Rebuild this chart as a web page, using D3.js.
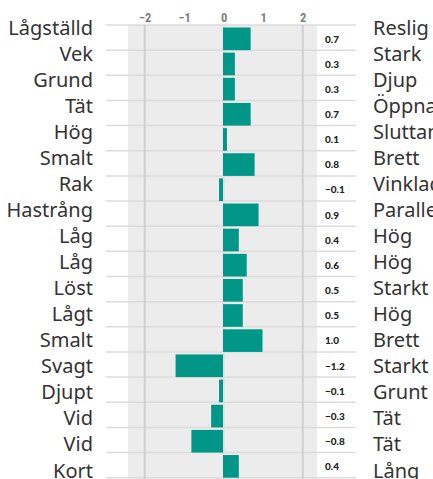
<!DOCTYPE html>
<html>
<head>
<meta charset="utf-8">
<script src="https://cdn.jsdelivr.net/npm/d3@7"></script>
<style>
  body { margin: 0; background: #fff; }
  svg { display: block; }
</style>
</head>
<body>
<div id="chart"></div>
<script>
var leftLabels = ["Lågställd", "Vek", "Grund", "Tät", "Hög", "Smalt", "Rak", "Hastrång", "Låg",
  "Låg", "Löst", "Lågt", "Smalt", "Svagt", "Djupt", "Vid", "Vid", "Kort"];
var rightLabels = ["Reslig", "Stark", "Djup", "Öppna", "Sluttande", "Brett", "Vinklad", "Parallell", "Hög",
  "Hög", "Starkt", "Hög", "Brett", "Starkt", "Grunt", "Tät", "Tät", "Lång"];
var values = [0.7, 0.3, 0.3, 0.7, 0.1, 0.8, -0.1, 0.9, 0.4, 0.6, 0.5, 0.5, 1.0, -1.2, -0.1, -0.3, -0.8, 0.4];
var ticks = [-2, -1, 0, 1, 2];

var W = 433, H = 479;
var svg = d3.select("#chart").append("svg").attr("width", W).attr("height", H);

var x = d3.scaleLinear().domain([-2, 2]).range([144.7, 302.7]);
var y = d3.scaleBand().domain(d3.range(values.length)).range([25, 477.7]).paddingInner(0);
// labels on the sides use their own line spacing
var ly = d3.scalePoint().domain(d3.range(values.length)).range([27.5, 470.5]);

// grey panel
svg.append("rect").attr("x", 128).attr("y", 25).attr("width", 189).attr("height", H - 25).attr("fill", "#ececec");

// row lines
function rowEdge(i){ return i < values.length ? y(i) : y(values.length - 1) + y.bandwidth(); }
svg.selectAll("line.row").data(d3.range(values.length + 1)).enter().append("line")
  .attr("class", "row")
  .attr("x1", 106).attr("x2", 356)
  .attr("y1", rowEdge).attr("y2", rowEdge)
  .attr("stroke", "#dcdcdc").attr("stroke-width", 1.5);

// vertical grid
svg.selectAll("line.grid").data([-2, 0, 2]).enter().append("line")
  .attr("x1", function(d){ return x(d); }).attr("x2", function(d){ return x(d); })
  .attr("y1", 25).attr("y2", H)
  .attr("stroke", function(d){ return d == 0 ? "#e0e0e0" : "#cfcfcf"; })
  .attr("stroke-width", 2);

// bars
svg.selectAll("rect.bar").data(values).enter().append("rect")
  .attr("class", "bar")
  .attr("x", function(d){ return Math.min(x(0), x(d)) - 0.7; })
  .attr("width", function(d){ return Math.abs(x(d) - x(0)); })
  .attr("y", function(d, i){ return y(i) + 2.5; })
  .attr("height", y.bandwidth() - 2.5)
  .attr("fill", "#009688");

// top axis
var axis = svg.append("g").attr("transform", "translate(0,23)")
  .call(d3.axisTop(x).tickValues(ticks).tickSize(0).tickPadding(1).tickFormat(d3.format("d")));
axis.select(".domain").remove();
axis.selectAll("text").attr("font-family", "Roboto Condensed, Roboto, sans-serif")
  .attr("font-size", 12.5).attr("font-weight", 700).attr("fill", "#808080");

// values
var fmt = d3.format(".1f");
svg.selectAll("text.val").data(values).enter().append("text")
  .attr("class", "val")
  .attr("x", 325)
  .attr("y", function(d, i){ return y(i) + y.bandwidth() / 2 + 1.5; })
  .attr("dy", "0.35em")
  .attr("font-family", "Lato, sans-serif").attr("font-weight", 900).attr("font-size", 10)
  .attr("fill", "#222")
  .text(function(d){ return fmt(d); });

// side labels
svg.selectAll("text.left").data(leftLabels).enter().append("text")
  .attr("class", "left")
  .attr("x", 93).attr("y", function(d, i){ return ly(i); })
  .attr("dy", "0.35em").attr("text-anchor", "end")
  .attr("font-family", "Noto Sans, sans-serif").attr("font-size", 20).attr("fill", "#333")
  .text(function(d){ return d; });

svg.selectAll("text.right").data(rightLabels).enter().append("text")
  .attr("class", "right")
  .attr("x", 373).attr("y", function(d, i){ return ly(i); })
  .attr("dy", "0.35em")
  .attr("font-family", "Noto Sans, sans-serif").attr("font-size", 20).attr("fill", "#333")
  .text(function(d){ return d; });
</script>
</body>
</html>
